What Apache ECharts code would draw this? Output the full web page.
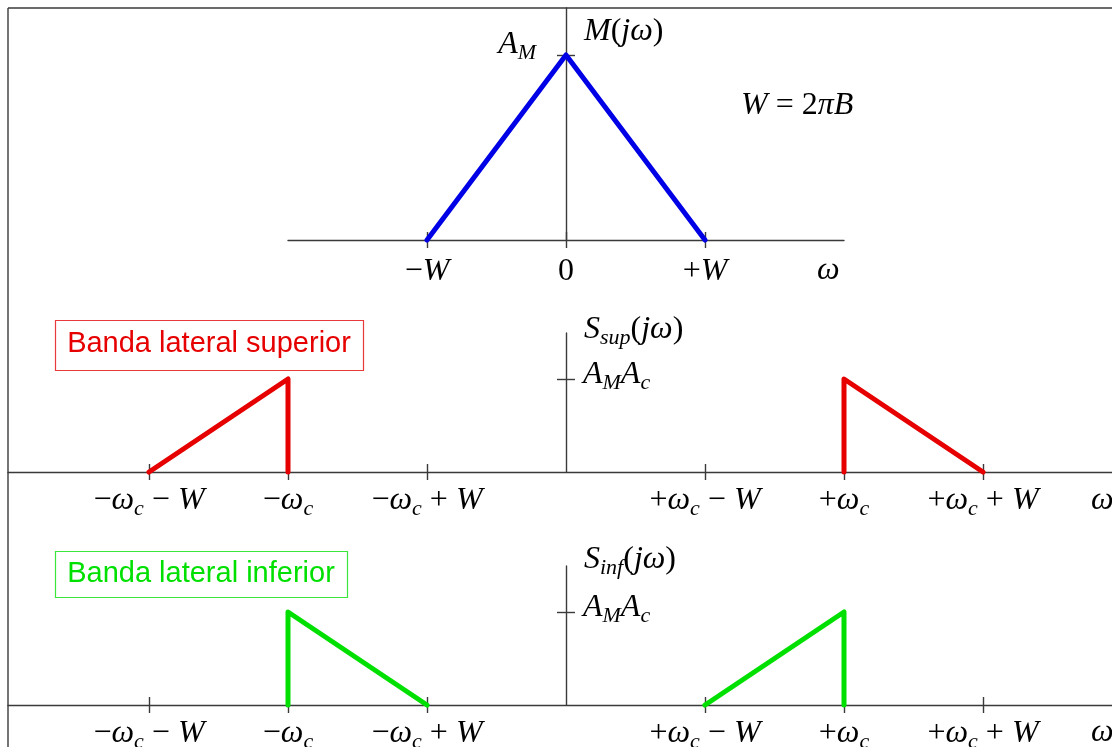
<!DOCTYPE html>
<html>
<head>
<meta charset="utf-8">
<script src="https://cdn.jsdelivr.net/npm/echarts@6/dist/echarts.min.js"></script>
<style>
  html, body { margin: 0; padding: 0; background: #ffffff; }
  #chart { width: 1112px; height: 747px; }
</style>
</head>
<body>
<div id="chart"></div>
<script>
// Frequency axis in units of W (message bandwidth); carrier sits at ωc = 2W.

// Message spectrum M(jω)
const msgTicks = [-1, 0, 1];
const msgTickLabels = ['{rm|−}{it|W}', '{rm|0}', '{rm|+}{it|W}'];
const msgX = [-1, 0, 1];
const msgY = [0, 1, 0];

// Sideband spectra share the same tick positions
const sbTicks = [-3, -2, -1, 1, 2, 3];
const sbTickLabels = [
  '{rm|−}{it|ω}{sub|c}{rm| − }{it|W}',
  '{rm|−}{it|ω}{sub|c}',
  '{rm|−}{it|ω}{sub|c}{rm| + }{it|W}',
  '{rm|+}{it|ω}{sub|c}{rm| − }{it|W}',
  '{rm|+}{it|ω}{sub|c}',
  '{rm|+}{it|ω}{sub|c}{rm| + }{it|W}'
];

// Upper sideband S_sup(jω)
const usbNegX = [-3, -2, -2];
const usbNegY = [0, 1, 0];
const usbPosX = [2, 2, 3];
const usbPosY = [0, 1, 0];

// Lower sideband S_inf(jω)
const lsbNegX = [-2, -2, -1];
const lsbNegY = [0, 1, 0];
const lsbPosX = [1, 2, 2];
const lsbPosY = [0, 1, 0];

const AXIS = '#3a3a3a';
const BLUE = '#0000e6';
const RED = '#e60000';
const GREEN = '#00e000';
const SERIF = '"Liberation Serif", "DejaVu Serif", serif';
const SANS = '"Liberation Sans", Arial, sans-serif';
const FS = 32;
const SFS = 22;

const mathRich = {
  it:  { fontFamily: SERIF, fontStyle: 'italic', fontSize: FS, color: '#000', lineHeight: 40 },
  rm:  { fontFamily: SERIF, fontStyle: 'normal', fontSize: FS, color: '#000', lineHeight: 40 },
  sub: { fontFamily: SERIF, fontStyle: 'italic', fontSize: SFS, color: '#000', lineHeight: 40, padding: [16, 0, 0, 0] }
};

function pairs(xs, ys) { return xs.map((x, i) => [x, ys[i]]); }

function labelFor(ticks, labels) {
  return function (v) {
    const i = ticks.findIndex(t => Math.abs(t - v) < 1e-6);
    return i < 0 ? '' : labels[i];
  };
}

const tickLine = { color: AXIS, width: 1.4 };

// Each panel: a main grid holding the horizontal axis and the curves,
// plus a narrow grid whose left edge is the vertical axis at ω = 0.
function panelAxes(mainGrid, auxGrid, xMin, xMax, yMax, ticks, labels, xMargin, yLabel, yInside, yMargin, yPadding) {
  const xAxis = [
    {
      type: 'value', gridIndex: mainGrid, min: xMin, max: xMax, position: 'bottom',
      axisLine: { show: true, onZero: false, lineStyle: tickLine },
      axisTick: { show: true, inside: false, length: 8, lineStyle: tickLine, customValues: ticks },
      axisLabel: { show: true, customValues: ticks, formatter: labelFor(ticks, labels), margin: xMargin, rich: mathRich, verticalAlign: 'top' },
      splitLine: { show: false }
    },
    {
      type: 'value', gridIndex: mainGrid, min: xMin, max: xMax, position: 'bottom',
      axisLine: { show: false, onZero: false },
      axisTick: { show: true, inside: true, length: 8, lineStyle: tickLine, customValues: ticks },
      axisLabel: { show: false },
      splitLine: { show: false }
    },
    {
      type: 'value', gridIndex: auxGrid, min: 0, max: 1, show: false
    }
  ];
  const yAxis = [
    {
      type: 'value', gridIndex: mainGrid, min: 0, max: yMax, show: false
    },
    {
      type: 'value', gridIndex: auxGrid, min: 0, max: yMax, position: 'left',
      axisLine: { show: true, onZero: false, lineStyle: tickLine },
      axisTick: { show: true, inside: false, length: 9, lineStyle: tickLine, customValues: [1] },
      axisLabel: { show: true, customValues: [1], inside: yInside, margin: yMargin, padding: yPadding, formatter: () => yLabel, rich: mathRich },
      splitLine: { show: false }
    },
    {
      type: 'value', gridIndex: auxGrid, min: 0, max: yMax, position: 'left',
      axisLine: { show: false, onZero: false },
      axisTick: { show: true, inside: true, length: 9, lineStyle: tickLine, customValues: [1] },
      axisLabel: { show: false },
      splitLine: { show: false }
    }
  ];
  return { xAxis, yAxis };
}

function lineSeries(xAxisIndex, yAxisIndex, data, color) {
  return {
    type: 'line', xAxisIndex, yAxisIndex, data,
    showSymbol: false, silent: true, animation: false, clip: false,
    lineStyle: { color, width: 5, join: 'round', cap: 'round' }
  };
}

// Horizontal scale: 139 px per W, origin of every panel at x = 566
const PX_W = 139;
const ORIGIN = 566;
const sbMin = -(ORIGIN - 8) / PX_W;
const sbMax = (1112 - ORIGIN) / PX_W;

const msgPanel = panelAxes(0, 1, -2, 2, 232 / 185, msgTicks, msgTickLabels, 12,
  '{it|A}{sub|M}', false, 30, [0, 0, 20, 0]);
const usbPanel = panelAxes(2, 3, sbMin, sbMax, 139 / 93, sbTicks, sbTickLabels, 9,
  '{it|A}{sub|M}{it|A}{sub|c}', true, 17, [0, 0, 8, 0]);
const lsbPanel = panelAxes(4, 5, sbMin, sbMax, 139 / 93, sbTicks, sbTickLabels, 9,
  '{it|A}{sub|M}{it|A}{sub|c}', true, 17, [0, 0, 8, 0]);

const fixedGrid = (g) => Object.assign({ outerBoundsMode: 'none', containLabel: false }, g);

const chart = echarts.init(document.getElementById('chart'), null, { renderer: 'canvas' });

chart.setOption({
  animation: false,
  backgroundColor: '#ffffff',
  grid: [
    fixedGrid({ left: 288, top: 8, width: 556, height: 232 }),
    fixedGrid({ left: ORIGIN, top: 8, width: 10, height: 232 }),
    fixedGrid({ left: 8, top: 333, width: 1104, height: 139 }),
    fixedGrid({ left: ORIGIN, top: 333, width: 10, height: 139 }),
    fixedGrid({ left: 8, top: 566, width: 1104, height: 139 }),
    fixedGrid({ left: ORIGIN, top: 566, width: 10, height: 139 })
  ],
  xAxis: [...msgPanel.xAxis, ...usbPanel.xAxis, ...lsbPanel.xAxis],
  yAxis: [...msgPanel.yAxis, ...usbPanel.yAxis, ...lsbPanel.yAxis],
  series: [
    lineSeries(0, 0, pairs(msgX, msgY), BLUE),
    lineSeries(3, 3, pairs(usbNegX, usbNegY), RED),
    lineSeries(3, 3, pairs(usbPosX, usbPosY), RED),
    lineSeries(6, 6, pairs(lsbNegX, lsbNegY), GREEN),
    lineSeries(6, 6, pairs(lsbPosX, lsbPosY), GREEN)
  ],
  graphic: [
    // outer frame (top and left edges)
    { type: 'line', shape: { x1: 8, y1: 8, x2: 1112, y2: 8 }, style: { stroke: AXIS, lineWidth: 1.4 } },
    { type: 'line', shape: { x1: 8, y1: 8, x2: 8, y2: 747 }, style: { stroke: AXIS, lineWidth: 1.4 } },

    // panel titles and annotations
    { type: 'text', x: 584, y: 32, style: { text: '{it|M}{rm|(}{it|jω}{rm|)}', rich: mathRich, verticalAlign: 'middle' } },
    { type: 'text', x: 741, y: 106, style: { text: '{it|W}{rm| = 2}{it|πB}', rich: mathRich, verticalAlign: 'middle' } },
    { type: 'text', x: 817, y: 271, style: { text: '{it|ω}', rich: mathRich, verticalAlign: 'middle' } },
    { type: 'text', x: 584, y: 330, style: { text: '{it|S}{sub|sup}{rm|(}{it|jω}{rm|)}', rich: mathRich, verticalAlign: 'middle' } },
    { type: 'text', x: 1091, y: 501, style: { text: '{it|ω}', rich: mathRich, verticalAlign: 'middle' } },
    { type: 'text', x: 584, y: 560, style: { text: '{it|S}{sub|inf}{rm|(}{it|jω}{rm|)}', rich: mathRich, verticalAlign: 'middle' } },
    { type: 'text', x: 1091, y: 733, style: { text: '{it|ω}', rich: mathRich, verticalAlign: 'middle' } },

    // sideband captions
    { type: 'rect', shape: { x: 55.5, y: 320.5, width: 308, height: 50 }, style: { fill: '#fff', stroke: '#e83a3a', lineWidth: 1.2 } },
    { type: 'text', x: 209, y: 344, style: { text: 'Banda lateral superior', font: '29px ' + SANS, fill: RED, align: 'center', verticalAlign: 'middle' } },
    { type: 'rect', shape: { x: 55.5, y: 551.5, width: 292, height: 46 }, style: { fill: '#fff', stroke: '#3ae63a', lineWidth: 1.2 } },
    { type: 'text', x: 201, y: 574, style: { text: 'Banda lateral inferior', font: '29px ' + SANS, fill: GREEN, align: 'center', verticalAlign: 'middle' } }
  ]
});
</script>
</body>
</html>
